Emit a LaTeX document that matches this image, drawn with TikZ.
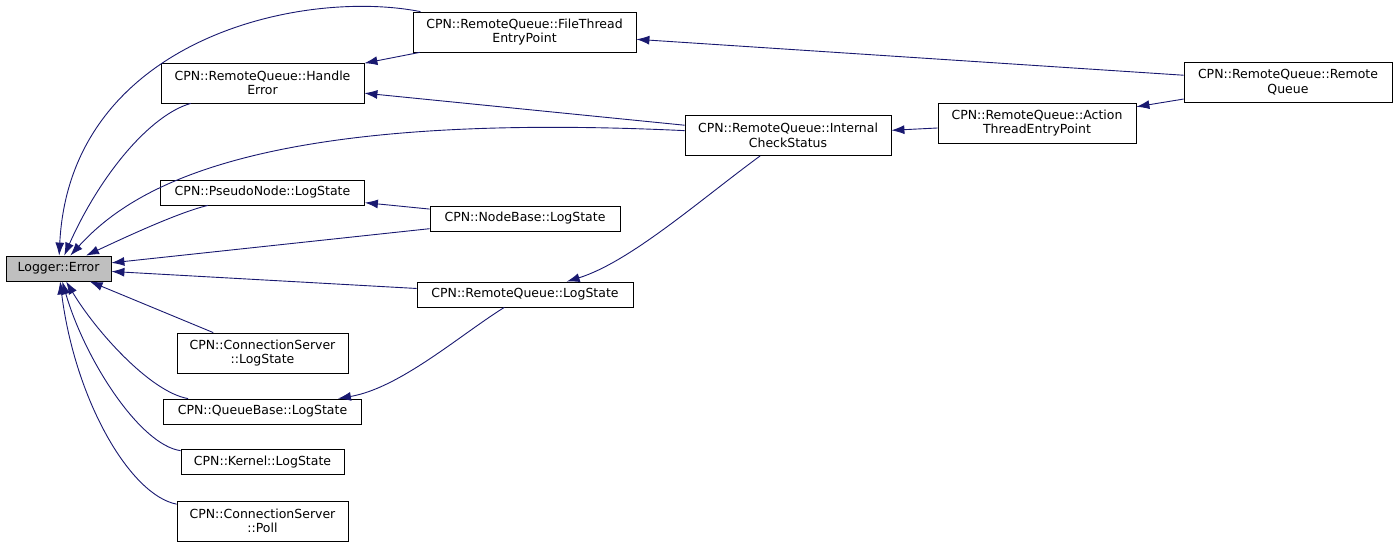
\documentclass[tikz,border=0pt]{standalone}
\usepackage{fontspec}
\setmainfont{DejaVu Sans}
\usetikzlibrary{arrows.meta}
\definecolor{edgeblue}{HTML}{191970}
\definecolor{hilite}{HTML}{BFBFBF}
\begin{document}
\begin{tikzpicture}[x=1pt, y=1pt,
    fn/.style = {draw, rectangle, line width=0.8pt, align=center, inner sep=2pt, font=\fontsize{12.5}{14.5}\selectfont},
    one/.style = {minimum height=25pt},
    two/.style = {minimum height=40pt},
    call/.style = {draw=edgeblue, line width=0.9pt, {Latex[length=13pt,width=9pt]}-}]
    \useasboundingbox (0,0) rectangle (1397,-546);

    \node[fn, one] (err) at (58.5,-268.5) [minimum width=105pt, fill=hilite] {Logger::Error};

    \node[fn, two] (handle) at (262.5,-83) [minimum width=203pt] {CPN::RemoteQueue::Handle\\Error};
    \node[fn, one] (pseudo) [below of=handle, node distance=109.5pt, minimum width=204pt] {CPN::PseudoNode::LogState};
    \node[fn, two] (csls) at (262.5,-353) [minimum width=171pt] {CPN::ConnectionServer\\::LogState};
    \node[fn, one] (qbase) [below of=csls, node distance=58.5pt, minimum width=198pt] {CPN::QueueBase::LogState};
    \node[fn, one] (kernel) [below of=qbase, node distance=50.5pt, minimum width=163pt] {CPN::Kernel::LogState};
    \node[fn, two] (poll) [below of=kernel, node distance=59pt, minimum width=171pt] {CPN::ConnectionServer\\::Poll};

    \node[fn, two] (filethr) at (524.5,-32) [minimum width=223pt] {CPN::RemoteQueue::FileThread\\EntryPoint};
    \node[fn, one] (nodebase) at (525,-218.5) [minimum width=190pt] {CPN::NodeBase::LogState};
    \node[fn, one] (rqlog) [below of=nodebase, node distance=76pt, minimum width=216pt] {CPN::RemoteQueue::LogState};

    \node[fn, two] (internal) at (788,-135.5) [minimum width=206pt] {CPN::RemoteQueue::Internal\\CheckStatus};
    \node[fn, two] (action) at (1037,-123) [minimum width=198pt] {CPN::RemoteQueue::Action\\ThreadEntryPoint};
    \node[fn, two] (remote) at (1288,-82) [minimum width=208pt] {CPN::RemoteQueue::Remote\\Queue};

    % callers of Logger::Error
    \draw[call] (err) .. controls (70,-40) and (300,12) .. (filethr);
    \draw[call] (err) .. controls (100,-175) and (150,-115) .. (handle);
    \draw[call] (err) .. controls (130,-190) and (250,-110) .. (internal);
    \draw[call] (err) .. controls (130,-235) and (180,-212) .. (pseudo);
    \draw[call] (err) -- (nodebase);
    \draw[call] (err) -- (rqlog);
    \draw[call] (err) -- (csls);
    \draw[call] (err) .. controls (95,-330) and (150,-392) .. (qbase);
    \draw[call] (err) .. controls (85,-360) and (140,-445) .. (kernel);
    \draw[call] (err) .. controls (75,-400) and (130,-495) .. (poll);

    % the rest
    \draw[call] (handle) -- (filethr);
    \draw[call] (handle) -- (internal);
    \draw[call] (pseudo) -- (nodebase);
    \draw[call] (qbase) .. controls (400,-388) and (460,-335) .. (rqlog);
    \draw[call] (rqlog) .. controls (630,-262) and (700,-200) .. (internal);
    \draw[call] (internal) -- (action);
    \draw[call] (action) -- (remote);
    \draw[call] (filethr) -- (remote);
\end{tikzpicture}
\end{document}
